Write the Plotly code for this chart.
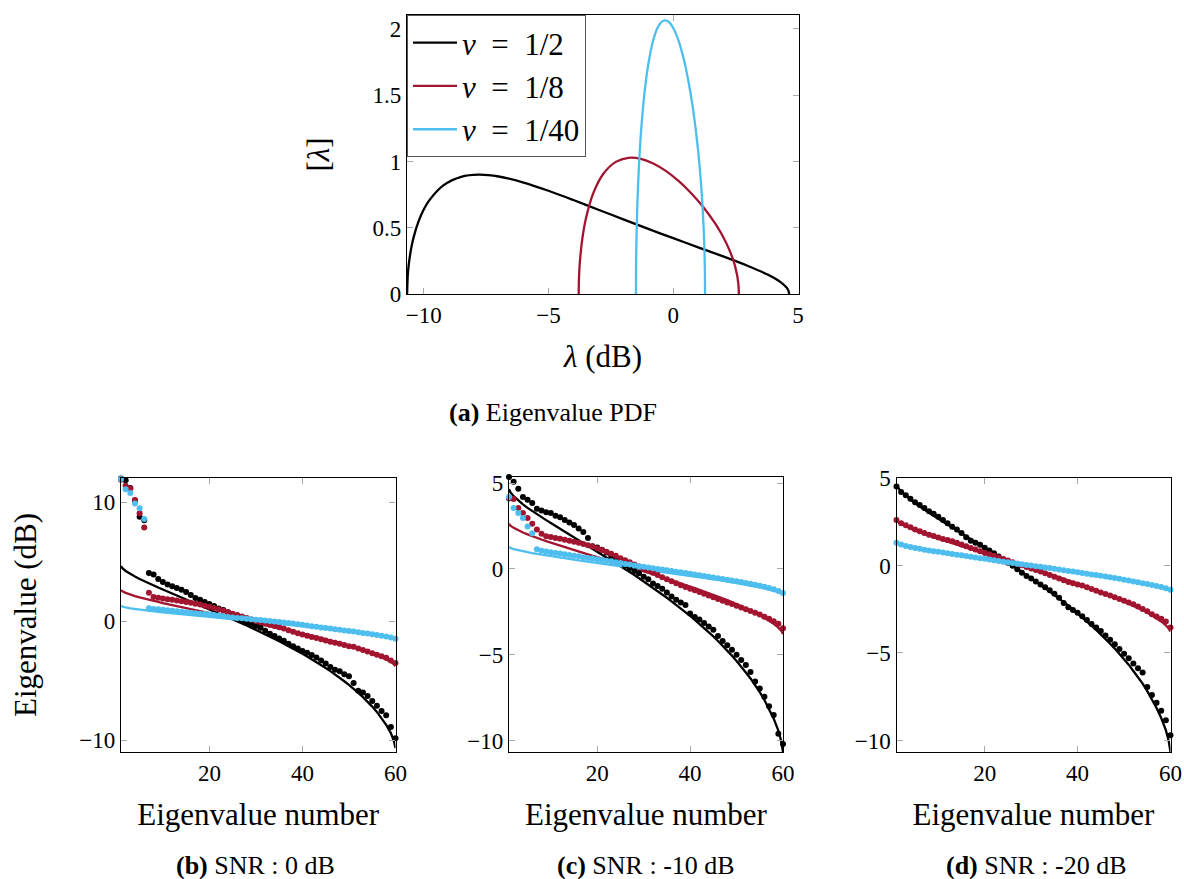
import plotly.graph_objects as go

W, H = 1184, 879
FONT = "Liberation Serif"
BLACK = "#000000"
RED = "#A2142F"
BLUE = "#4DBEEE"

# ---------------- (a) eigenvalue PDF ----------------
X_HALF = [-10.666, -10.64, -10.6, -10.5, -10.4, -10.2, -10.0, -9.8, -9.2, -8.5, -7.8, -7.0, -6.0, -5.0,
          -4.0, -3.0, -2.0, -1.0, 0.0, 1.0, 2.0, 3.0, 3.8, 4.3, 4.55, 4.62, 4.645]
Y_HALF = [0.0, 0.140, 0.222, 0.347, 0.431, 0.551, 0.637, 0.701, 0.821, 0.884, 0.900, 0.8865, 0.841, 0.779,
          0.709, 0.636, 0.563, 0.491, 0.421, 0.352, 0.2835, 0.2113, 0.1449, 0.0901, 0.0467, 0.0239, 0.0]

X_EIGHTH = [-3.789, -3.78, -3.75, -3.65, -3.5, -3.2, -2.8, -2.3, -1.8, -1.3, -0.8, -0.3, 0.2, 0.7, 1.2,
            1.7, 2.1, 2.4, 2.55, 2.6, 2.62, 2.6295]
Y_EIGHTH = [0.0, 0.1084, 0.2213, 0.4077, 0.5693, 0.7627, 0.9071, 0.9969, 1.0278, 1.0202, 0.985, 0.9286,
            0.8546, 0.7644, 0.657, 0.5269, 0.395, 0.2585, 0.1517, 0.0923, 0.0524, 0.0]

X_FORTIETH = [-1.495, -1.49, -1.48, -1.44, -1.38, -1.28, -1.15, -1.0, -0.8, -0.6, -0.4, -0.2, 0.0, 0.2,
              0.4, 0.6, 0.8, 1.0, 1.15, 1.23, 1.26, 1.27, 1.275]
Y_FORTIETH = [0.0, 0.203, 0.351, 0.665, 0.9446, 1.252, 1.5213, 1.7337, 1.9159, 2.0187, 2.0617, 2.0557,
              2.0069, 1.9179, 1.7885, 1.615, 1.3867, 1.076, 0.7348, 0.4438, 0.2568, 0.1486, 0.0]

NB = "\u00a0"
LEGEND_NAMES = [f"<i>ν</i>{NB}{NB}={NB}{NB}1/2", f"<i>ν</i>{NB}{NB}={NB}{NB}1/8", f"<i>ν</i>{NB}{NB}={NB}{NB}1/40"]

# ---------------- theoretical eigenvalue curves (dB) ----------------
N_LINE = [1, 1.3] + list(range(2, 60)) + [59.6, 60]
LINE_HALF = [4.645, 4.46, 4.23, 3.97, 3.76, 3.55, 3.36, 3.17, 3.00, 2.84, 2.67, 2.505, 2.34, 2.18, 2.01,
             1.84, 1.68, 1.51, 1.35, 1.18, 1.01, 0.85, 0.685, 0.51, 0.34, 0.16, 0.0, -0.18, -0.355,
             -0.54, -0.72, -0.91, -1.09, -1.29, -1.48, -1.68, -1.89, -2.09, -2.30, -2.52, -2.74,
             -2.97, -3.20, -3.44, -3.68, -3.93, -4.20, -4.47, -4.75, -5.05, -5.36, -5.67, -6.03,
             -6.38, -6.75, -7.18, -7.63, -8.14, -8.72, -9.41, -10.01, -10.666]
LINE_EIGHTH = [2.63, 2.52, 2.39, 2.24, 2.12, 2.01, 1.90, 1.80, 1.71, 1.62, 1.53, 1.44, 1.35, 1.265, 1.18,
               1.095, 1.01, 0.93, 0.845, 0.76, 0.68, 0.60, 0.52, 0.435, 0.353, 0.27, 0.19, 0.106, 0.02,
               -0.06, -0.145, -0.23, -0.315, -0.40, -0.49, -0.575, -0.665, -0.75, -0.84, -0.93, -1.025,
               -1.12, -1.22, -1.315, -1.41, -1.51, -1.61, -1.715, -1.82, -1.935, -2.05, -2.175, -2.295,
               -2.42, -2.55, -2.69, -2.85, -3.02, -3.2, -3.42, -3.60, -3.789]
LINE_FORTIETH = [1.275, 1.222, 1.157, 1.085, 1.025, 0.972, 0.921, 0.874, 0.828, 0.784, 0.741, 0.70, 0.66,
                 0.62, 0.58, 0.539, 0.50, 0.463, 0.425, 0.387, 0.35, 0.312, 0.275, 0.237, 0.20, 0.164,
                 0.127, 0.091, 0.054, 0.018, -0.019, -0.056, -0.093, -0.13, -0.167, -0.205, -0.242,
                 -0.281, -0.32, -0.359, -0.398, -0.437, -0.475, -0.516, -0.556, -0.597, -0.64, -0.685,
                 -0.73, -0.775, -0.82, -0.866, -0.915, -0.966, -1.018, -1.075, -1.137, -1.2, -1.27,
                 -1.355, -1.422, -1.495]

# ---------------- sample eigenvalues (dB), eigenvalue number 1..60 ----------------
N_DOTS = list(range(1, 61))

B_HALF = [12.0, 11.87, 11.2, 10.15, 8.78, 8.5, 4.05, 3.94, 3.55, 3.3, 3.1, 2.95, 2.8, 2.65, 2.45, 2.2,
          1.95, 1.8, 1.62, 1.45, 1.28, 1.08, 0.95, 0.75, 0.55, 0.3, 0.05, -0.12, -0.25, -0.4, -0.55,
          -0.8, -1.05, -1.25, -1.45, -1.65, -1.9, -2.1, -2.3, -2.5, -2.65, -2.85, -3.05, -3.3, -3.55,
          -3.85, -4.08, -4.2, -4.45, -4.62, -5.2, -5.85, -6.0, -6.28, -6.7, -7.1, -7.55, -7.9, -8.9, -9.85]
B_EIGHTH = [11.9, 11.4, 11.17, 10.19, 9.09, 7.88, 2.39, 2.03, 1.98, 1.92, 1.86, 1.8, 1.74, 1.68, 1.62,
            1.55, 1.48, 1.4, 1.3, 1.22, 1.12, 1.0, 0.88, 0.76, 0.64, 0.52, 0.4, 0.28, 0.14, 0.02, -0.08,
            -0.2, -0.3, -0.4, -0.5, -0.62, -0.75, -0.88, -1.0, -1.12, -1.22, -1.32, -1.42, -1.52, -1.62,
            -1.72, -1.8, -1.9, -2.0, -2.1, -2.15, -2.3, -2.42, -2.55, -2.7, -2.82, -2.95, -3.08, -3.3, -3.52]
B_FORTIETH = [11.96, 11.1, 10.78, 9.9, 9.5, 8.6, 1.1, 1.04, 1.0, 0.96, 0.92, 0.88, 0.84, 0.8, 0.76, 0.72,
              0.68, 0.64, 0.6, 0.56, 0.52, 0.48, 0.42, 0.36, 0.32, 0.28, 0.25, 0.21, 0.17, 0.13, 0.1,
              0.06, 0.02, -0.02, -0.06, -0.1, -0.15, -0.2, -0.25, -0.3, -0.35, -0.43, -0.47, -0.52, -0.57,
              -0.62, -0.67, -0.72, -0.77, -0.82, -0.87, -0.92, -0.98, -1.04, -1.1, -1.16, -1.22, -1.28,
              -1.36, -1.47]

C_HALF = [5.35, 5.08, 4.67, 4.18, 4.03, 3.83, 3.5, 3.4, 3.3, 3.25, 3.1, 3.0, 2.85, 2.7, 2.55, 2.35, 2.15,
          1.8, 1.32, 1.25, 1.12, 0.95, 0.75, 0.65, 0.4, 0.2, 0.05, -0.12, -0.25, -0.45, -0.6, -0.85, -1.0,
          -1.15, -1.38, -1.6, -1.8, -1.95, -2.1, -2.6, -2.8, -2.95, -3.15, -3.35, -3.55, -3.9, -4.2,
          -4.45, -4.7, -5.0, -5.3, -5.6, -6.0, -6.55, -6.97, -7.45, -8.0, -8.5, -9.6, -10.2]
C_EIGHTH = [4.1, 4.07, 3.54, 3.25, 2.96, 2.63, 2.3, 2.05, 1.9, 1.85, 1.8, 1.75, 1.7, 1.64, 1.58, 1.52,
            1.45, 1.38, 1.3, 1.2, 1.1, 1.0, 0.88, 0.76, 0.62, 0.5, 0.38, 0.26, 0.14, 0.02, -0.1, -0.22,
            -0.35, -0.48, -0.6, -0.72, -0.84, -0.95, -1.05, -1.15, -1.25, -1.35, -1.45, -1.55, -1.65,
            -1.75, -1.85, -1.95, -2.05, -2.15, -2.25, -2.35, -2.45, -2.55, -2.65, -2.78, -2.9, -3.05,
            -3.2, -3.45]
C_FORTIETH = [4.18, 3.54, 3.25, 2.96, 2.47, 2.08, 1.15, 1.05, 1.01, 0.97, 0.93, 0.89, 0.85, 0.81, 0.77,
              0.73, 0.68, 0.64, 0.6, 0.56, 0.52, 0.48, 0.44, 0.39, 0.34, 0.29, 0.25, 0.2, 0.16, 0.12,
              0.08, 0.04, 0.0, -0.04, -0.08, -0.12, -0.16, -0.2, -0.24, -0.28, -0.33, -0.37, -0.41,
              -0.46, -0.5, -0.54, -0.59, -0.63, -0.68, -0.72, -0.77, -0.82, -0.87, -0.92, -0.98, -1.04,
              -1.11, -1.18, -1.28, -1.4]

D_HALF = [4.52, 4.2, 4.02, 3.82, 3.62, 3.45, 3.28, 3.1, 2.95, 2.78, 2.6, 2.42, 2.22, 2.05, 1.85, 1.62,
          1.42, 1.3, 1.18, 1.02, 0.86, 0.7, 0.52, 0.34, 0.15, -0.02, -0.22, -0.42, -0.6, -0.75, -0.92,
          -1.08, -1.25, -1.42, -1.62, -1.85, -2.15, -2.38, -2.55, -2.7, -2.9, -3.12, -3.35, -3.55, -3.75,
          -4.0, -4.25, -4.5, -4.78, -5.05, -5.3, -5.6, -5.87, -6.11, -6.95, -7.4, -7.85, -8.3, -8.85, -9.7]
D_EIGHTH = [2.6, 2.42, 2.3, 2.18, 2.05, 1.95, 1.85, 1.76, 1.68, 1.6, 1.52, 1.45, 1.38, 1.3, 1.2, 1.1, 1.0,
            0.92, 0.82, 0.72, 0.64, 0.55, 0.46, 0.37, 0.28, 0.19, 0.1, 0.01, -0.08, -0.17, -0.26, -0.35,
            -0.44, -0.54, -0.64, -0.74, -0.84, -0.94, -1.02, -1.08, -1.15, -1.25, -1.35, -1.45, -1.55,
            -1.63, -1.72, -1.82, -1.92, -2.02, -2.12, -2.22, -2.35, -2.48, -2.62, -2.78, -2.92, -3.05,
            -3.2, -3.55]
D_FORTIETH = [1.3, 1.2, 1.12, 1.06, 1.0, 0.95, 0.9, 0.86, 0.82, 0.78, 0.74, 0.7, 0.66, 0.62, 0.58, 0.54,
              0.5, 0.46, 0.42, 0.38, 0.34, 0.3, 0.26, 0.22, 0.18, 0.14, 0.1, 0.07, 0.03, 0.0, -0.04, -0.07,
              -0.11, -0.15, -0.19, -0.23, -0.27, -0.31, -0.35, -0.39, -0.43, -0.47, -0.51, -0.55, -0.59,
              -0.63, -0.67, -0.71, -0.76, -0.81, -0.86, -0.91, -0.96, -1.01, -1.06, -1.11, -1.17, -1.23,
              -1.3, -1.38]

TOP_XTICKS = [-10, -5, 0, 5]
TOP_YTICKS = [0, 0.5, 1, 1.5, 2]
TOP_YTICKTEXT = ["0", "0.5", "1", "1.5", "2"]
BOT_XTICKS = [20, 40, 60]
B_YTICKS = [-10, 0, 10]
CD_YTICKS = [-10, -5, 0, 5]

CAPTIONS = ["<b>(a)</b> Eigenvalue PDF", "<b>(b)</b> SNR : 0 dB", "<b>(c)</b> SNR : -10 dB",
            "<b>(d)</b> SNR : -20 dB"]

# ---------------- figure ----------------
fig = go.Figure()
colors = [BLACK, RED, BLUE]

for name, xs, ys, c in zip(LEGEND_NAMES, [X_HALF, X_EIGHTH, X_FORTIETH], [Y_HALF, Y_EIGHTH, Y_FORTIETH], colors):
    fig.add_trace(go.Scatter(x=xs, y=ys, mode="lines", name=name, legendgroup=name,
                             line=dict(color=c, width=2.3, shape="spline", smoothing=0.8),
                             xaxis="x", yaxis="y"))

panels = [("x2", "y2", [B_HALF, B_EIGHTH, B_FORTIETH]),
          ("x3", "y3", [C_HALF, C_EIGHTH, C_FORTIETH]),
          ("x4", "y4", [D_HALF, D_EIGHTH, D_FORTIETH])]
for xa, ya, dots in panels:
    for line, c in zip([LINE_HALF, LINE_EIGHTH, LINE_FORTIETH], colors):
        fig.add_trace(go.Scatter(x=N_LINE, y=line, mode="lines", showlegend=False,
                                 line=dict(color=c, width=2.3), xaxis=xa, yaxis=ya))
    for d, c in zip(dots, colors):
        fig.add_trace(go.Scatter(x=N_DOTS, y=d, mode="markers", showlegend=False, cliponaxis=False,
                                 marker=dict(color=c, size=6, line=dict(width=0)), xaxis=xa, yaxis=ya))


def px_x(a, b):
    return [a / W, b / W]


def px_y(top, bottom):
    return [1 - bottom / H, 1 - top / H]


TICKFONT = dict(family=FONT, size=23, color="black")
TITLEFONT = dict(family=FONT, size=31, color="black")
common = dict(showline=True, linecolor="black", linewidth=1.2, mirror="ticks", ticks="inside",
              ticklen=6, tickcolor="#a8a8a8", tickwidth=1.2, showgrid=False, zeroline=False,
              tickfont=TICKFONT, automargin=False)

fig.update_layout(
    width=W, height=H, margin=dict(l=0, r=0, t=0, b=0, autoexpand=False),
    paper_bgcolor="white", plot_bgcolor="white",
    font=dict(family=FONT, color="black"),
    xaxis=dict(domain=px_x(407, 799), range=[-10.67, 5.04], tickvals=TOP_XTICKS, anchor="y",
               title=dict(text="<i>λ</i> (dB)", font=TITLEFONT, standoff=18), **common),
    yaxis=dict(domain=px_y(15, 294), range=[0, 2.105], tickvals=TOP_YTICKS, ticktext=TOP_YTICKTEXT,
               anchor="x", title=dict(text="[<i>λ</i>]", font=TITLEFONT, standoff=33), **common),
    xaxis2=dict(domain=px_x(121, 395.5), range=[1, 60], tickvals=BOT_XTICKS, anchor="y2",
                title=dict(text="Eigenvalue number", font=TITLEFONT, standoff=18), **common),
    yaxis2=dict(domain=px_y(478, 752), range=[-11.0, 12.05], tickvals=B_YTICKS, anchor="x2",
                title=dict(text="Eigenvalue (dB)", font=TITLEFONT, standoff=33), **common),
    xaxis3=dict(domain=px_x(509, 783), range=[1, 60], tickvals=BOT_XTICKS, anchor="y3",
                title=dict(text="Eigenvalue number", font=TITLEFONT, standoff=18), **common),
    yaxis3=dict(domain=px_y(477, 752), range=[-10.66, 5.35], tickvals=CD_YTICKS, anchor="x3", **common),
    xaxis4=dict(domain=px_x(896.5, 1170.5), range=[1, 60], tickvals=BOT_XTICKS, anchor="y4",
                title=dict(text="Eigenvalue number", font=TITLEFONT, standoff=18), **common),
    yaxis4=dict(domain=px_y(478, 752), range=[-10.66, 5.0], tickvals=CD_YTICKS, anchor="x4", **common),
    legend=dict(x=407 / W, y=1 - 15 / H, xanchor="left", yanchor="top", bgcolor="white",
                bordercolor="#555555", borderwidth=1, font=dict(family=FONT, size=31, color="black"),
                tracegroupgap=0, itemwidth=44),
    showlegend=True,
)

cap_pos = [(553, 412), (255, 865), (646, 865), (1036, 865)]
for text, (cx, cy) in zip(CAPTIONS, cap_pos):
    fig.add_annotation(text=text, x=cx / W, y=1 - cy / H, xref="paper", yref="paper", showarrow=False,
                       xanchor="center", yanchor="middle", font=dict(family=FONT, size=26, color="black"))

fig.write_html("out.html")
